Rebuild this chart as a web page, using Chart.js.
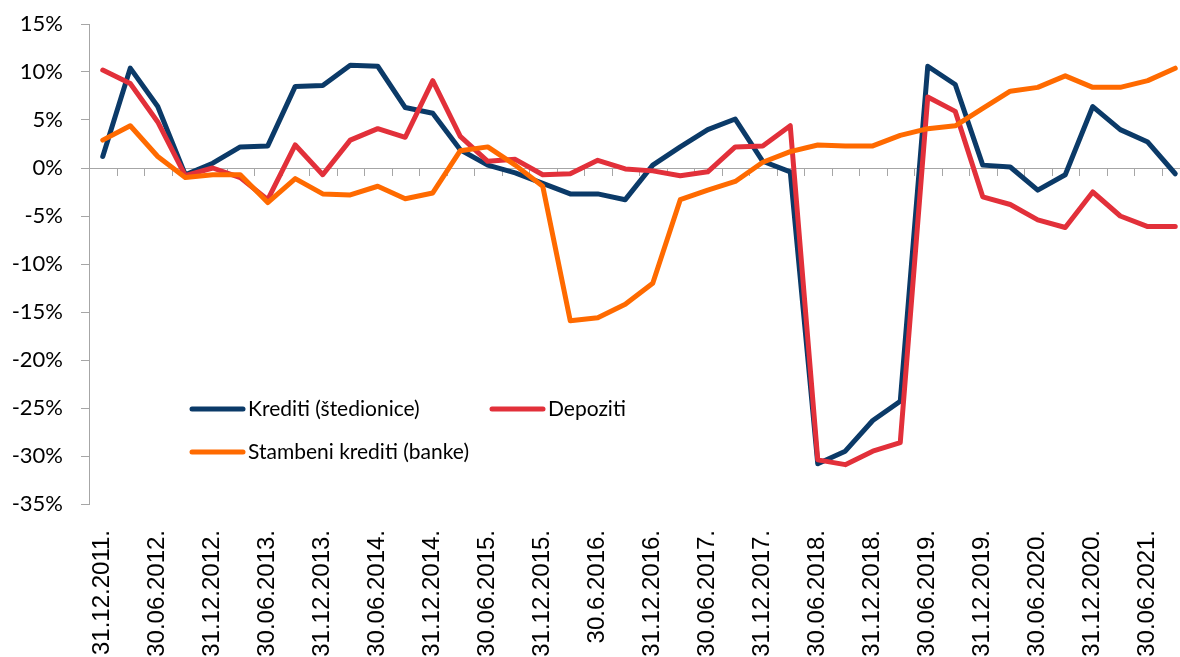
<!DOCTYPE html>
<html>
<head>
<meta charset="utf-8">
<script src="https://cdn.jsdelivr.net/npm/chart.js@4/dist/chart.umd.min.js"></script>
<style>
  html, body { margin: 0; padding: 0; overflow: hidden; background: #fff; }
  #wrap { position: absolute; left: 0; top: 0; }
</style>
</head>
<body>
<div id="wrap"><canvas id="diagram" width="1195" height="700"></canvas></div>
<script>
// quarterly dates, only every second one gets a label on the axis
var quarters = [
  '31.12.2011.', '31.03.2012.', '30.06.2012.', '30.09.2012.', '31.12.2012.',
  '31.03.2013.', '30.06.2013.', '30.09.2013.', '31.12.2013.', '31.03.2014.',
  '30.06.2014.', '30.09.2014.', '31.12.2014.', '31.03.2015.', '30.06.2015.',
  '30.09.2015.', '31.12.2015.', '31.03.2016.', '30.6.2016.', '30.09.2016.',
  '31.12.2016.', '31.03.2017.', '30.06.2017.', '30.09.2017.', '31.12.2017.',
  '31.03.2018.', '30.06.2018.', '30.09.2018.', '31.12.2018.', '31.03.2019.',
  '30.06.2019.', '30.09.2019.', '31.12.2019.', '31.03.2020.', '30.06.2020.',
  '30.09.2020.', '31.12.2020.', '31.03.2021.', '30.06.2021.', '30.09.2021.'
];

var kreditiStedionice = [
  1.2, 10.4, 6.4, -0.7, 0.5, 2.2, 2.3, 8.5, 8.6, 10.7,
  10.6, 6.3, 5.7, 1.9, 0.3, -0.5, -1.6, -2.7, -2.7, -3.3,
  0.3, 2.2, 4.0, 5.1, 0.7, -0.4, -30.8, -29.5, -26.3, -24.3,
  10.6, 8.7, 0.3, 0.1, -2.3, -0.7, 6.4, 4.0, 2.7, -0.6
];

var depoziti = [
  10.2, 8.8, 4.8, -0.8, 0.0, -1.0, -3.3, 2.4, -0.7, 2.9,
  4.1, 3.2, 9.1, 3.3, 0.7, 0.9, -0.7, -0.6, 0.8, -0.1,
  -0.3, -0.8, -0.4, 2.2, 2.3, 4.4, -30.4, -30.9, -29.5, -28.6,
  7.4, 5.9, -3.0, -3.8, -5.4, -6.2, -2.5, -5.0, -6.1, -6.1
];

var stambeniKreditiBanke = [
  2.9, 4.4, 1.2, -1.0, -0.7, -0.7, -3.6, -1.1, -2.7, -2.8,
  -1.9, -3.2, -2.6, 1.8, 2.2, 0.3, -1.9, -15.9, -15.6, -14.2,
  -12.0, -3.3, -2.3, -1.4, 0.6, 1.7, 2.4, 2.3, 2.3, 3.4,
  4.1, 4.4, 6.2, 8.0, 8.4, 9.6, 8.4, 8.4, 9.1, 10.4
];

var yMin = -35, yMax = 15, yStep = 5;

var axisGray = '#a6a6a6';

// little tick marks hanging below the zero line, between categories
var zeroAxisTicks = {
  id: 'zeroAxisTicks',
  beforeDatasetsDraw: function(chart) {
    var x = chart.scales.x, y = chart.scales.y;
    var ctx = chart.ctx;
    var y0 = y.getPixelForValue(0);
    var half = (x.getPixelForValue(1) - x.getPixelForValue(0)) / 2;
    ctx.save();
    ctx.strokeStyle = axisGray;
    ctx.lineWidth = 1;
    ctx.beginPath();
    for (var i = 0; i <= quarters.length; i++) {
      var px = Math.round(x.getPixelForValue(i) - half) + 0.5;
      ctx.moveTo(px, y0);
      ctx.lineTo(px, y0 + 8);
    }
    ctx.stroke();
    ctx.restore();
  }
};

// legend sits inside the plot, two items on the first row, one below
var innerLegend = {
  id: 'innerLegend',
  afterDraw: function(chart) {
    var spots = [[190, 409], [490, 409], [190, 452]];
    var ctx = chart.ctx;
    ctx.save();
    ctx.font = '21px Lato';
    ctx.textBaseline = 'middle';
    ctx.fillStyle = '#000';
    chart.data.datasets.forEach(function(ds, i) {
      var sx = spots[i][0], sy = spots[i][1];
      ctx.strokeStyle = ds.borderColor;
      ctx.lineWidth = 5;
      ctx.lineCap = 'round';
      ctx.beginPath();
      ctx.moveTo(sx + 2, sy);
      ctx.lineTo(sx + 53, sy);
      ctx.stroke();
      ctx.fillText(ds.label, sx + 58, sy);
    });
    ctx.restore();
  }
};

function line(label, data, colour, order) {
  return {
    label: label,
    data: data,
    borderColor: colour,
    backgroundColor: colour,
    borderWidth: 5,
    pointRadius: 0,
    pointHoverRadius: 0,
    tension: 0,
    fill: false,
    order: order,
    borderJoinStyle: 'round',
    borderCapStyle: 'round'
  };
}

// keep the plot box fixed: no extra room for overhanging labels
function noPadding(s) {
  s.paddingLeft = 0;
  s.paddingRight = 0;
  s.paddingTop = 0;
  s.paddingBottom = 0;
}

var ctx = document.getElementById('diagram');
var chart = new Chart(ctx, {
  type: 'line',
  data: {
    labels: quarters,
    datasets: [
      line('Krediti (štedionice)', kreditiStedionice, '#0b3a68', 3),
      line('Depoziti', depoziti, '#e2303a', 2),
      line('Stambeni krediti (banke)', stambeniKreditiBanke, '#ff6a00', 1)
    ]
  },
  options: {
    responsive: false,
    animation: false,
    layout: { padding: { top: 24, right: 6, left: 0, bottom: 0 } },
    plugins: {
      legend: { display: false },
      title: { display: false },
      tooltip: { enabled: false }
    },
    scales: {
      x: {
        offset: true,
        grid: { display: false },
        border: { display: false },
        ticks: {
          autoSkip: false,
          minRotation: 90,
          maxRotation: 90,
          padding: 18,
          color: '#000',
          font: { family: 'Liberation Sans', size: 24 },
          callback: function(v, i) { return i % 2 === 0 ? quarters[i] : ''; }
        },
        afterFit: function(s) { s.height = 196; noPadding(s); }
      },
      y: {
        min: yMin,
        max: yMax,
        ticks: {
          stepSize: yStep,
          padding: 18,
          color: '#000',
          font: { family: 'Lato', size: 22 },
          callback: function(v) { return v + '%'; }
        },
        grid: {
          color: function(c) { return c.tick && c.tick.value === 0 ? axisGray : 'rgba(0,0,0,0)'; },
          tickColor: axisGray,
          tickLength: 8,
          lineWidth: 1
        },
        border: { color: axisGray, width: 1 },
        afterFit: function(s) { s.width = 89; noPadding(s); }
      }
    }
  },
  plugins: [zeroAxisTicks, innerLegend]
});
</script>
</body>
</html>
